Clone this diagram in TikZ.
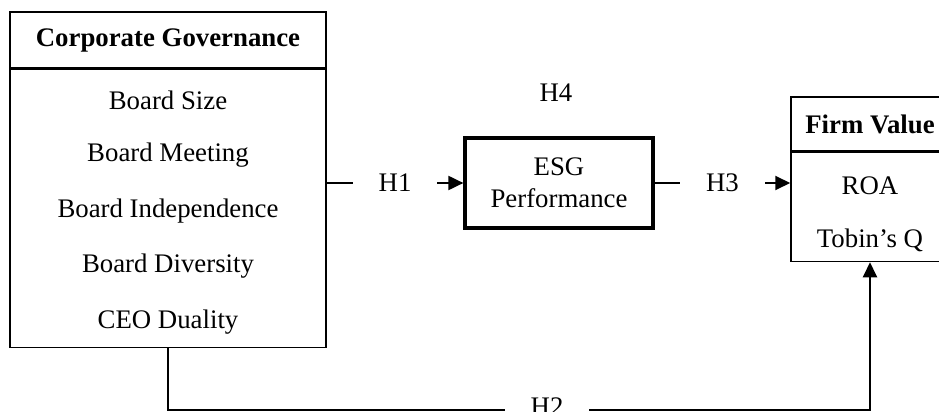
\documentclass[tikz,border=0pt]{standalone}
\usepackage{fontspec}
\setmainfont{Liberation Serif}
\usetikzlibrary{arrows.meta,positioning}

\begin{document}
\begin{tikzpicture}[x=0.5pt, y=-0.5pt,
    font=\fontsize{13.4}{16}\selectfont,
    box/.style={draw, line width=0.75pt, inner sep=0pt},
    lbl/.style={fill=white, inner xsep=13pt, inner ysep=1pt},
    conn/.style={line width=1pt},
    arr/.style={conn, -{Triangle[width=7pt, length=7.5pt]}}]
  \useasboundingbox (0,0) rectangle (939,412);
  \clip (0,0) rectangle (939,412);
  % corporate governance
  \node[box, minimum width=158pt, minimum height=28pt] (cgHead) at (168,40) {\textbf{Corporate Governance}};
  \node[box, minimum width=158pt, minimum height=139pt, below=0pt of cgHead] (cgBody) {};
  \foreach \t [count=\i] in {Board Size, Board Meeting, Board Independence, Board Diversity, CEO Duality}
    \node (cg\i) at (168,44.5+55.5*\i) {\t};
  % firm value
  \node[box, minimum width=79pt, minimum height=27pt] (fvHead) at (870,124) {\textbf{Firm Value}};
  \node[box, minimum width=79pt, minimum height=54.5pt, below=0pt of fvHead] (fvBody) {};
  \node (fv1) at (870,186) {ROA};
  \node (fv2) at (870,240) {Tobin's Q};
  % mediator
  \node[box, line width=1.6pt, minimum width=94pt, minimum height=45pt, align=center] (esg) at (559,183) {ESG\\Performance};
  \node (h4) at (556,93) {H4};
  % paths
  \draw[arr] (cgBody.east |- esg.west) -- node[lbl] (h1) {H1} (esg.west);
  \draw[arr] (esg.east) -- node[lbl] (h3) {H3} (esg.east -| fvBody.west);
  \draw[arr] (cgBody.south) -- ++(0,62) -| node[lbl, pos=0.27, yshift=2pt] (h2) {H2} (fvBody.south);
\end{tikzpicture}
\end{document}
